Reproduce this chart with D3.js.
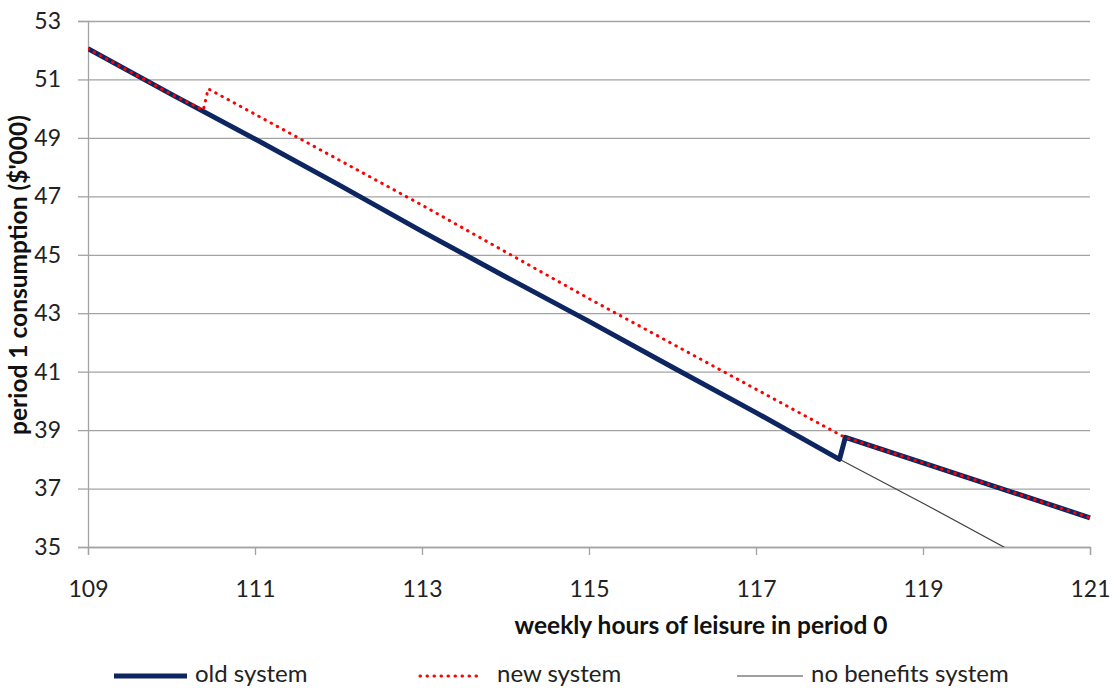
<!DOCTYPE html>
<html>
<head>
<meta charset="utf-8">
<script src="https://cdn.jsdelivr.net/npm/d3@7"></script>
<style>
  body { margin: 0; background: #fff; }
  svg { display: block; font-family: Lato, "Liberation Sans", sans-serif; }
</style>
</head>
<body>
<svg id="chart" width="1115" height="688"></svg>
<script>
// hours of leisure (x) and period 1 consumption in $'000 (y)
const oldHours = [109, 110, 111, 112, 113, 114, 115, 116, 117, 118.0, 118.07, 119, 120, 121];
const oldCons  = [52.05, 50.49, 48.96, 47.4, 45.8, 44.25, 42.72, 41.15, 39.6, 38.0, 38.75, 37.88, 36.94, 36.0];

const newHours = [109, 110, 110.38, 110.44, 113, 115, 117, 118.0, 118.07, 119, 120, 121];
const newCons  = [52.05, 50.49, 49.95, 50.68, 46.7, 43.5, 40.4, 38.85, 38.75, 37.88, 36.94, 36.0];

const noBenHours = [118.0, 119, 120];
const noBenCons  = [38.0, 36.5, 34.95];

const yTicks = [35, 37, 39, 41, 43, 45, 47, 49, 51, 53];
const xTicks = [109, 111, 113, 115, 117, 119, 121];

const seriesNames = ["old system", "new system", "no benefits system"];

const svg = d3.select("#chart");
const plotLeft = 88, plotRight = 1090, plotTop = 21, plotBottom = 547;

const x = d3.scaleLinear().domain([109, 121]).range([plotLeft, plotRight]);
const y = d3.scaleLinear().domain([35, 53]).range([plotBottom, plotTop]);

const gridColor = "#a3a3a3";

// horizontal gridlines
svg.append("g")
  .attr("transform", "translate(" + plotLeft + ",0)")
  .call(d3.axisLeft(y).tickValues(yTicks).tickSize(-(plotRight - plotLeft)).tickFormat(""))
  .call(g => g.select(".domain").remove())
  .call(g => g.selectAll("line").attr("stroke", gridColor).attr("stroke-width", 1.3));

// y axis
svg.append("g")
  .attr("transform", "translate(" + plotLeft + ",0)")
  .call(d3.axisLeft(y).tickValues(yTicks).tickSize(10).tickPadding(17))
  .call(g => g.select(".domain").attr("stroke", gridColor).attr("stroke-width", 1.3))
  .call(g => g.selectAll("line").attr("stroke", gridColor).attr("stroke-width", 1.3))
  .call(g => g.selectAll("text").attr("font-size", 23).attr("fill", "#222").attr("font-family", "Lato, sans-serif"));

// x axis
svg.append("g")
  .attr("transform", "translate(0," + plotBottom + ")")
  .call(d3.axisBottom(x).tickValues(xTicks).tickSize(8))
  .call(g => g.select(".domain").attr("stroke", gridColor).attr("stroke-width", 1.3))
  .call(g => g.selectAll("line").attr("stroke", gridColor).attr("stroke-width", 1.3))
  .call(g => g.selectAll("text").attr("y", 50).attr("dy", 0)
    .attr("font-size", 23).attr("fill", "#222").attr("font-family", "Lato, sans-serif"));

// axis titles
svg.append("text")
  .attr("x", 701).attr("y", 634)
  .attr("text-anchor", "middle")
  .attr("font-weight", "bold")
  .attr("font-size", 24.5)
  .attr("fill", "#111")
  .text("weekly hours of leisure in period 0");

svg.append("text")
  .attr("transform", "translate(27,275) rotate(-90)")
  .attr("text-anchor", "middle")
  .attr("font-weight", "bold")
  .attr("font-size", 24.5)
  .attr("fill", "#111")
  .text("period 1 consumption ($'000)");

// clip to plot area
svg.append("clipPath").attr("id", "plotClip")
  .append("rect").attr("x", plotLeft).attr("y", plotTop - 5)
  .attr("width", plotRight - plotLeft + 4).attr("height", plotBottom - plotTop + 5);

const line = d3.line().x(d => x(d[0])).y(d => y(d[1]));
const plot = svg.append("g").attr("clip-path", "url(#plotClip)");

plot.append("path")
  .datum(d3.zip(noBenHours, noBenCons))
  .attr("d", line)
  .attr("fill", "none")
  .attr("stroke", "#404040")
  .attr("stroke-width", 1.2);

plot.append("path")
  .datum(d3.zip(oldHours, oldCons))
  .attr("d", line)
  .attr("fill", "none")
  .attr("stroke", "#0d2560")
  .attr("stroke-width", 5)
  .attr("stroke-linejoin", "round");

plot.append("path")
  .datum(d3.zip(newHours, newCons))
  .attr("d", line)
  .attr("fill", "none")
  .attr("stroke", "#ff0000")
  .attr("stroke-width", 3)
  .attr("stroke-linecap", "round")
  .attr("stroke-dasharray", "0.5,6.5");

// legend
const legendItems = [
  {name: seriesNames[0], x1: 114, x2: 187, tx: 195, color: "#0d2560", width: 5, dash: null, cap: "butt"},
  {name: seriesNames[1], x1: 420, x2: 483, tx: 497, color: "#ff0000", width: 3, dash: "0.5,6.5", cap: "round"},
  {name: seriesNames[2], x1: 737, x2: 803, tx: 811, color: "#404040", width: 1.2, dash: null, cap: "butt"}
];

const legend = svg.append("g").selectAll("g")
  .data(legendItems)
  .enter()
  .append("g");

legend.append("line")
  .attr("x1", d => d.x1).attr("x2", d => d.x2)
  .attr("y1", 676).attr("y2", 676)
  .attr("stroke", d => d.color)
  .attr("stroke-width", d => d.width)
  .attr("stroke-linecap", d => d.cap)
  .attr("stroke-dasharray", d => d.dash);

legend.append("text")
  .attr("x", d => d.tx).attr("y", 682)
  .attr("font-size", 24)
  .attr("fill", "#222")
  .text(d => d.name);
</script>
</body>
</html>
